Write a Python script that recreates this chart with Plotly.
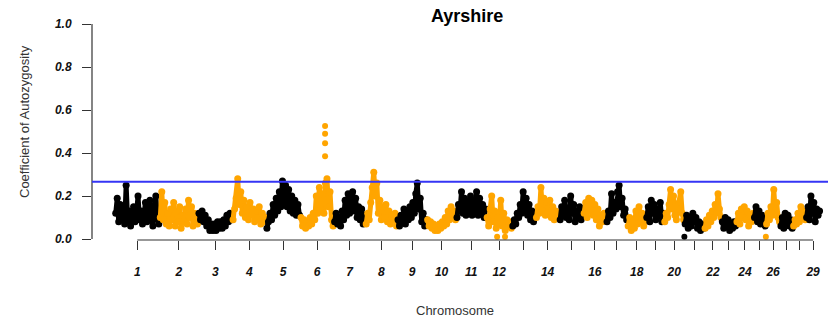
import plotly.graph_objects as go

# ---------------- data ----------------
breed = "Ayrshire"
chromosomes = list(range(1, 30))
# chromosome lengths (Mb)
chrom_len = [158, 137, 121, 120, 121, 119, 112, 113, 105, 104, 107, 91, 84, 84, 85,
             81, 75, 66, 64, 72, 71, 61, 52, 62, 43, 51, 45, 46, 51]
# labels shown under the chromosome ticks (blank = suppressed)
tick_labels = ["1", "2", "3", "4", "5", "6", "7", "8", "9", "10", "11", "12", "", "14", "",
               "16", "", "18", "", "20", "", "22", "", "24", "", "26", "", "", "29"]

# coefficient of autozygosity along each chromosome
chr1 = [0.12, 0.19, 0.08, 0.16, 0.10, 0.14, 0.07, 0.25, 0.09, 0.13, 0.06, 0.11, 0.15, 0.08, 0.12,
        0.20, 0.09, 0.13, 0.07, 0.11, 0.17, 0.08, 0.12, 0.18, 0.09, 0.06, 0.13, 0.20, 0.10, 0.07]
chr2 = [0.10, 0.22, 0.09, 0.17, 0.07, 0.12, 0.06, 0.14, 0.09, 0.17, 0.06, 0.13, 0.08, 0.15, 0.05,
        0.11, 0.08, 0.14, 0.07, 0.18, 0.10, 0.15, 0.06, 0.12, 0.09, 0.07]
chr3 = [0.12, 0.09, 0.13, 0.08, 0.11, 0.06, 0.09, 0.04, 0.07, 0.04, 0.07, 0.04, 0.08, 0.05, 0.08,
        0.05, 0.09, 0.06, 0.11, 0.08, 0.12, 0.09]
chr4 = [0.09, 0.14, 0.19, 0.28, 0.16, 0.22, 0.12, 0.18, 0.10, 0.15, 0.09, 0.17, 0.11, 0.14, 0.08,
        0.13, 0.10, 0.15, 0.07, 0.12, 0.08, 0.10]
chr5 = [0.05, 0.08, 0.12, 0.09, 0.16, 0.11, 0.19, 0.13, 0.22, 0.15, 0.27, 0.17, 0.25, 0.15, 0.23,
        0.13, 0.20, 0.12, 0.18, 0.11, 0.16, 0.11]
chr6 = [0.10, 0.06, 0.09, 0.05, 0.08, 0.06, 0.10, 0.07, 0.12, 0.09, 0.20, 0.12, 0.24, 0.14, 0.21,
        0.12, 0.26, 0.28, 0.15, 0.22, 0.09, 0.06]
chr7 = [0.08, 0.12, 0.07, 0.10, 0.06, 0.13, 0.09, 0.18, 0.11, 0.21, 0.12, 0.16, 0.22, 0.13, 0.19,
        0.10, 0.15, 0.09, 0.14, 0.07, 0.11]
chr8 = [0.07, 0.12, 0.09, 0.17, 0.24, 0.31, 0.20, 0.26, 0.12, 0.18, 0.09, 0.15, 0.10, 0.16, 0.08,
        0.13, 0.07, 0.11, 0.09, 0.12, 0.06]
chr9 = [0.09, 0.06, 0.11, 0.08, 0.14, 0.07, 0.12, 0.09, 0.15, 0.10, 0.17, 0.12, 0.21, 0.26, 0.14,
        0.19, 0.08, 0.12, 0.06, 0.09]
chr10 = [0.09, 0.06, 0.08, 0.05, 0.07, 0.04, 0.06, 0.04, 0.07, 0.05, 0.08, 0.06, 0.10, 0.07, 0.13,
         0.09, 0.15, 0.10, 0.13, 0.09]
chr11 = [0.10, 0.16, 0.13, 0.22, 0.12, 0.19, 0.11, 0.17, 0.12, 0.20, 0.11, 0.18, 0.12, 0.22, 0.11,
         0.19, 0.12, 0.16, 0.10, 0.14]
chr12 = [0.10, 0.06, 0.14, 0.20, 0.08, 0.13, 0.05, 0.10, 0.07, 0.18, 0.06, 0.12, 0.04, 0.09, 0.06,
         0.08, 0.05]
chr13 = [0.06, 0.09, 0.07, 0.12, 0.10, 0.16, 0.12, 0.22, 0.14, 0.19, 0.11, 0.16, 0.09, 0.13, 0.08, 0.11]
chr14 = [0.10, 0.15, 0.12, 0.24, 0.13, 0.19, 0.11, 0.17, 0.12, 0.18, 0.10, 0.15, 0.09, 0.13, 0.10, 0.12]
chr15 = [0.09, 0.15, 0.11, 0.18, 0.10, 0.14, 0.09, 0.20, 0.12, 0.16, 0.08, 0.13, 0.10, 0.15, 0.09, 0.12]
chr16 = [0.12, 0.17, 0.10, 0.19, 0.13, 0.18, 0.11, 0.16, 0.09, 0.14, 0.06, 0.11, 0.08, 0.12, 0.09]
chr17 = [0.08, 0.13, 0.10, 0.21, 0.12, 0.17, 0.14, 0.22, 0.25, 0.15, 0.19, 0.11, 0.14, 0.09]
chr18 = [0.06, 0.10, 0.04, 0.08, 0.05, 0.13, 0.07, 0.15, 0.08, 0.12, 0.06, 0.09]
chr19 = [0.10, 0.15, 0.08, 0.18, 0.12, 0.16, 0.09, 0.14, 0.11, 0.17, 0.08, 0.12]
chr20 = [0.08, 0.12, 0.10, 0.16, 0.23, 0.14, 0.20, 0.11, 0.09, 0.14, 0.17, 0.22, 0.12, 0.09]
chr21 = [0.07, 0.11, 0.05, 0.09, 0.06, 0.12, 0.08, 0.10, 0.05, 0.08, 0.04, 0.07, 0.05]
chr22 = [0.05, 0.09, 0.06, 0.11, 0.08, 0.13, 0.10, 0.16, 0.12, 0.21, 0.14, 0.10]
chr23 = [0.08, 0.05, 0.10, 0.06, 0.09, 0.04, 0.07, 0.05, 0.08, 0.06]
chr24 = [0.08, 0.12, 0.07, 0.14, 0.10, 0.15, 0.09, 0.13, 0.06, 0.11, 0.08, 0.12]
chr25 = [0.10, 0.15, 0.08, 0.13, 0.07, 0.11, 0.09, 0.06]
chr26 = [0.07, 0.12, 0.09, 0.15, 0.11, 0.23, 0.13, 0.17, 0.10, 0.08]
chr27 = [0.06, 0.10, 0.05, 0.12, 0.07, 0.11, 0.06, 0.09, 0.05]
chr28 = [0.06, 0.09, 0.07, 0.12, 0.08, 0.15, 0.10, 0.13, 0.09]
chr29 = [0.10, 0.15, 0.09, 0.20, 0.12, 0.17, 0.08, 0.14, 0.11, 0.13]

values = [chr1, chr2, chr3, chr4, chr5, chr6, chr7, chr8, chr9, chr10, chr11, chr12, chr13, chr14,
          chr15, chr16, chr17, chr18, chr19, chr20, chr21, chr22, chr23, chr24, chr25, chr26,
          chr27, chr28, chr29]

# isolated points (chromosome, position Mb, value)
sparse_chr = [6, 6, 6, 6, 12, 12, 21, 26]
sparse_pos = [88, 88, 88, 88, 38, 66, 0, 0]
sparse_val = [0.385, 0.445, 0.49, 0.525, 0.01, 0.01, 0.01, 0.01]

threshold = 0.2665

# ---------------- figure ----------------
ORANGE = "#FFA500"
BLACK = "#000000"
FONT = "Liberation Sans"

offsets = []
acc = 0
for L in chrom_len:
    offsets.append(acc)
    acc += L
mids = [o + L / 2 for o, L in zip(offsets, chrom_len)]

fig = go.Figure()
for i, vals in enumerate(values):
    n = len(vals)
    L = chrom_len[i]
    xs = [offsets[i] + L * (k + 0.5) / n for k in range(n)]
    col = BLACK if i % 2 == 0 else ORANGE
    fig.add_trace(go.Scatter(x=xs, y=vals, mode="lines+markers",
                             line=dict(color=col, width=5),
                             marker=dict(color=col, size=7),
                             cliponaxis=False, showlegend=False, hoverinfo="skip"))

sx = [offsets[c - 1] + p for c, p in zip(sparse_chr, sparse_pos)]
scol = [BLACK if c % 2 == 1 else ORANGE for c in sparse_chr]
fig.add_trace(go.Scatter(x=sx, y=sparse_val, mode="markers",
                         marker=dict(color=scol, size=6), cliponaxis=False,
                         showlegend=False, hoverinfo="skip"))

# plot geometry
W, H = 828, 320
ml, mr, mt, mb = 92, 0, 15, 80
px_per_mb = 0.282
first_px = 115.0
x0 = (ml - first_px) / px_per_mb
x1 = (W - mr - first_px) / px_per_mb
ymin = -1 / 215
ymax = 1 + 9 / 215

tickfont = dict(family=FONT, size=12, color="#111", weight="bold", style="italic")

fig.update_layout(
    width=W, height=H,
    margin=dict(l=ml, r=mr, t=mt, b=mb, pad=0),
    paper_bgcolor="white", plot_bgcolor="white",
    xaxis=dict(range=[x0, x1], showgrid=False, zeroline=False, showline=False,
               tickmode="array", tickvals=mids, ticktext=tick_labels,
               ticks="outside", ticklen=9, tickwidth=1.2, tickcolor="#333",
               tickfont=tickfont, ticklabelstandoff=12),
    yaxis=dict(range=[ymin, ymax], showgrid=False, zeroline=False, showline=False,
               tickmode="array", tickvals=[0, 0.2, 0.4, 0.6, 0.8, 1.0],
               ticktext=["0.0", "0.2", "0.4", "0.6", "0.8", "1.0"],
               ticks="outside", ticklen=9, tickwidth=1.2, tickcolor="#333",
               tickfont=tickfont, ticklabelstandoff=8),
    shapes=[
        dict(type="line", xref="paper", yref="y", x0=0, x1=0, y0=0, y1=1,
             line=dict(color="#333", width=1.2)),
        dict(type="line", xref="x", yref="paper", x0=mids[0], x1=mids[-1], y0=0, y1=0,
             line=dict(color="#333", width=1.2)),
        dict(type="line", xref="paper", yref="y", x0=0, x1=1, y0=threshold, y1=threshold,
             line=dict(color="#3535f5", width=2)),
    ],
)

def pxx(p):
    return (p - ml) / (W - ml - mr)

def pxy(p):
    return (H - mb - p) / (H - mt - mb)

fig.add_annotation(text=breed, xref="paper", yref="paper", x=pxx(467), y=pxy(16),
                   showarrow=False, font=dict(family=FONT, size=18, color="#000", weight="bold"),
                   xanchor="center", yanchor="middle")
fig.add_annotation(text="Chromosome", xref="paper", yref="paper", x=pxx(455), y=pxy(310),
                   showarrow=False, font=dict(family=FONT, size=13, color="#333"),
                   xanchor="center", yanchor="middle")
fig.add_annotation(text="Coefficient of Autozygosity", xref="paper", yref="paper",
                   x=pxx(25), y=pxy(122), textangle=-90,
                   showarrow=False, font=dict(family=FONT, size=13, color="#333"),
                   xanchor="center", yanchor="middle")

fig.write_html("out.html")
